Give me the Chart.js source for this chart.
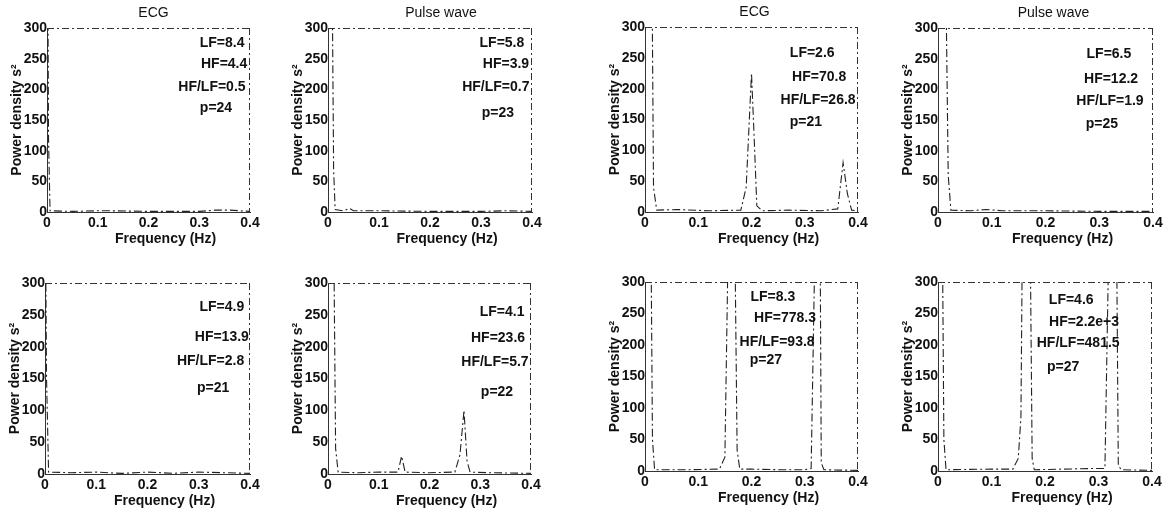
<!DOCTYPE html>
<html>
<head>
<meta charset="utf-8">
<script src="https://cdn.jsdelivr.net/npm/chart.js@4.4.1/dist/chart.umd.min.js"></script>
<style>
  html, body { margin: 0; padding: 0; background: #fff; }
  body { width: 1176px; height: 512px; position: relative; overflow: hidden; }
  canvas { position: absolute; }
</style>
</head>
<body>
<script>
// tick labels
const freqTicks = [0, 0.1, 0.2, 0.3, 0.4];
const powerTicks = [0, 50, 100, 150, 200, 250, 300];
const columnTitles = ["ECG", "Pulse wave", "ECG", "Pulse wave"];
const xLabel = "Frequency (Hz)";
const yLabel = "Power density s²";

// power spectra (frequency in Hz, power density)
const ecgAFreq  = [0, 0.003, 0.006, 0.05, 0.1, 0.12, 0.2, 0.3, 0.33, 0.36, 0.4];
const ecgAPower = [700, 120, 2, 1, 2, 2, 1, 1, 3, 3, 1];

const pulseAFreq  = [0, 0.008, 0.011, 0.014, 0.03, 0.042, 0.05, 0.1, 0.2, 0.3, 0.35, 0.4];
const pulseAPower = [500, 400, 70, 4, 2, 6, 2, 2, 1, 1, 2, 1];

const ecgBFreq  = [0, 0.013, 0.016, 0.022, 0.06, 0.12, 0.18, 0.19, 0.2, 0.205, 0.21, 0.22, 0.27, 0.33, 0.362, 0.372, 0.38, 0.388, 0.4];
const ecgBPower = [600, 400, 40, 3, 4, 2, 3, 40, 225, 120, 10, 2, 3, 2, 5, 80, 30, 3, 2];

const pulseBFreq  = [0, 0.015, 0.019, 0.024, 0.06, 0.09, 0.12, 0.2, 0.3, 0.4];
const pulseBPower = [500, 350, 60, 3, 2, 4, 2, 2, 1, 1];

const ecgCFreq  = [0, 0.003, 0.007, 0.05, 0.1, 0.15, 0.2, 0.25, 0.3, 0.35, 0.4];
const ecgCPower = [500, 150, 3, 2, 3, 1, 3, 1, 3, 2, 1];

const pulseCFreq  = [0, 0.011, 0.015, 0.02, 0.06, 0.1, 0.138, 0.145, 0.152, 0.2, 0.25, 0.26, 0.268, 0.274, 0.28, 0.32, 0.4];
const pulseCPower = [500, 400, 40, 3, 2, 3, 3, 28, 3, 2, 3, 30, 100, 20, 3, 2, 1];

const ecgDFreq  = [0, 0.011, 0.014, 0.018, 0.08, 0.14, 0.15, 0.156, 0.162, 0.169, 0.173, 0.178, 0.2, 0.25, 0.3, 0.312, 0.319, 0.324, 0.329, 0.331, 0.336, 0.4];
const ecgDPower = [600, 400, 50, 2, 2, 3, 22, 350, 1500, 350, 33, 3, 3, 2, 2, 4, 350, 1200, 350, 13, 2, 1];

const pulseDFreq  = [0, 0.008, 0.011, 0.015, 0.1, 0.14, 0.15, 0.155, 0.158, 0.165, 0.172, 0.176, 0.18, 0.29, 0.312, 0.319, 0.327, 0.334, 0.337, 0.342, 0.4];
const pulseDPower = [600, 400, 50, 2, 3, 3, 20, 85, 400, 2000, 400, 20, 2, 4, 4, 350, 2000, 350, 10, 2, 1];

// LF / HF figures printed in each panel
const ecgAStats   = ["LF=8.4", "HF=4.4", "HF/LF=0.5", "p=24"];
const pulseAStats = ["LF=5.8", "HF=3.9", "HF/LF=0.7", "p=23"];
const ecgBStats   = ["LF=2.6", "HF=70.8", "HF/LF=26.8", "p=21"];
const pulseBStats = ["LF=6.5", "HF=12.2", "HF/LF=1.9", "p=25"];
const ecgCStats   = ["LF=4.9", "HF=13.9", "HF/LF=2.8", "p=21"];
const pulseCStats = ["LF=4.1", "HF=23.6", "HF/LF=5.7", "p=22"];
const ecgDStats   = ["LF=8.3", "HF=778.3", "HF/LF=93.8", "p=27"];
const pulseDStats = ["LF=4.6", "HF=2.2e+3", "HF/LF=481.5", "p=27"];

// panel placement (plot area in page pixels) and where the texts sit
const panels = [
  { freq: ecgAFreq, power: ecgAPower, stats: ecgAStats, title: columnTitles[0], box: [47, 28, 250, 212],
    titleDx: 5, textX: [0.345, 0.349, 0.325, 0.333], textY: [276, 241, 204, 170] },
  { freq: pulseAFreq, power: pulseAPower, stats: pulseAStats, title: columnTitles[1], box: [328, 28, 532, 212],
    titleDx: 11, textX: [0.341, 0.349, 0.329, 0.333], textY: [276, 241, 204, 161] },
  { freq: ecgBFreq, power: ecgBPower, stats: ecgBStats, title: columnTitles[2], box: [645, 27, 858, 212],
    titleDx: 3, textX: [0.314, 0.327, 0.325, 0.302], textY: [258, 219, 182, 146] },
  { freq: pulseBFreq, power: pulseBPower, stats: pulseBStats, title: columnTitles[3], box: [938, 28, 1153, 212],
    titleDx: 8, textX: [0.318, 0.322, 0.32, 0.305], textY: [258, 217, 181, 144] },
  { freq: ecgCFreq, power: ecgCPower, stats: ecgCStats, title: null, box: [45, 283, 250, 474],
    titleDx: 0, textX: [0.345, 0.345, 0.323, 0.328], textY: [262, 215, 177, 135] },
  { freq: pulseCFreq, power: pulseCPower, stats: pulseCStats, title: null, box: [328, 283, 531, 474],
    titleDx: 0, textX: [0.343, 0.335, 0.329, 0.333], textY: [254, 214, 176, 129] },
  { freq: ecgDFreq, power: ecgDPower, stats: ecgDStats, title: null, box: [645, 282, 858, 471],
    titleDx: 0, textX: [0.24, 0.263, 0.248, 0.227], textY: [276, 243, 205, 176] },
  { freq: pulseDFreq, power: pulseDPower, stats: pulseDStats, title: null, box: [938, 282, 1152, 471],
    titleDx: 0, textX: [0.249, 0.273, 0.262, 0.234], textY: [271, 236, 203, 165] }
];

const FONT = "'Liberation Sans', Arial, sans-serif";
const INK = "#111";
const LEFT = 44, RIGHT = 14, TOP = 28, BOTTOM = 42;
const XLABEL_DX = 17, XLABEL_DY = 27;

Chart.defaults.font.family = FONT;
Chart.defaults.font.size = 14;
Chart.defaults.color = INK;

// MATLAB style box: dashed top and right edges
const framePlugin = {
  id: "frame",
  afterDraw(chart) {
    const { ctx, chartArea: a } = chart;
    ctx.save();
    ctx.strokeStyle = "#333";
    ctx.lineWidth = 1;
    ctx.setLineDash([7, 3, 2, 3]);
    ctx.beginPath();
    ctx.moveTo(a.left, a.top + 0.5);
    ctx.lineTo(a.right, a.top + 0.5);
    ctx.moveTo(a.right - 0.5, a.top);
    ctx.lineTo(a.right - 0.5, a.bottom);
    ctx.stroke();
    ctx.restore();
  }
};

// LF/HF text inside the panel, column title above, frequency label below
const textPlugin = {
  id: "texts",
  afterDatasetsDraw(chart, args, opts) {
    const { ctx, chartArea: a, scales: { x, y } } = chart;
    const mid = (a.left + a.right) / 2;
    ctx.save();
    ctx.fillStyle = INK;
    ctx.textAlign = "center";
    ctx.textBaseline = "middle";
    ctx.font = "bold 14px " + FONT;
    opts.lines.forEach((txt, i) => {
      ctx.fillText(txt, x.getPixelForValue(opts.xs[i]), y.getPixelForValue(opts.ys[i]));
    });
    ctx.fillText(xLabel, mid + XLABEL_DX, a.bottom + XLABEL_DY);
    if (opts.title) {
      ctx.font = "14px " + FONT;
      ctx.fillText(opts.title, mid + opts.titleDx, a.top - 15);
    }
    ctx.restore();
  }
};

function desenharPainel(p) {
  const [x0, y0, x1, y1] = p.box;
  const canvas = document.createElement("canvas");
  canvas.width = (x1 - x0) + LEFT + RIGHT;
  canvas.height = (y1 - y0) + TOP + BOTTOM;
  canvas.style.left = (x0 - LEFT) + "px";
  canvas.style.top = (y0 - TOP) + "px";
  document.body.appendChild(canvas);

  new Chart(canvas, {
    type: "line",
    data: {
      datasets: [{
        data: p.freq.map((f, i) => ({ x: f, y: p.power[i] })),
        borderColor: "#222",
        borderWidth: 1.1,
        borderDash: [8, 3, 2, 3],
        pointRadius: 0,
        tension: 0,
        fill: false
      }]
    },
    options: {
      responsive: false,
      animation: false,
      events: [],
      layout: { padding: { top: TOP, right: RIGHT, left: 0, bottom: 0 } },
      scales: {
        x: {
          type: "linear",
          min: 0,
          max: 0.4,
          afterBuildTicks: (axis) => { axis.ticks = freqTicks.map((v) => ({ value: v })); },
          afterFit: (axis) => { axis.height = BOTTOM; },
          ticks: { padding: 3, maxRotation: 0, autoSkip: false, font: { weight: "bold" }, callback: (v) => String(v) },
          grid: { display: false, drawTicks: false },
          border: { color: "#333", width: 1, dash: [7, 3, 2, 3] }
        },
        y: {
          type: "linear",
          min: 0,
          max: 300,
          afterBuildTicks: (axis) => { axis.ticks = powerTicks.map((v) => ({ value: v })); },
          afterFit: (axis) => { axis.width = LEFT; },
          ticks: { padding: 0, autoSkip: false, font: { weight: "bold" } },
          grid: { display: false, drawTicks: false },
          border: { color: "#333", width: 1 },
          title: { display: true, text: yLabel, font: { weight: "bold" }, padding: { top: 6, bottom: 0 } }
        }
      },
      plugins: {
        legend: { display: false },
        tooltip: { enabled: false },
        title: { display: false },
        texts: { lines: p.stats, xs: p.textX, ys: p.textY, title: p.title, titleDx: p.titleDx }
      }
    },
    plugins: [framePlugin, textPlugin]
  });
}

panels.forEach(desenharPainel);
</script>
</body>
</html>
